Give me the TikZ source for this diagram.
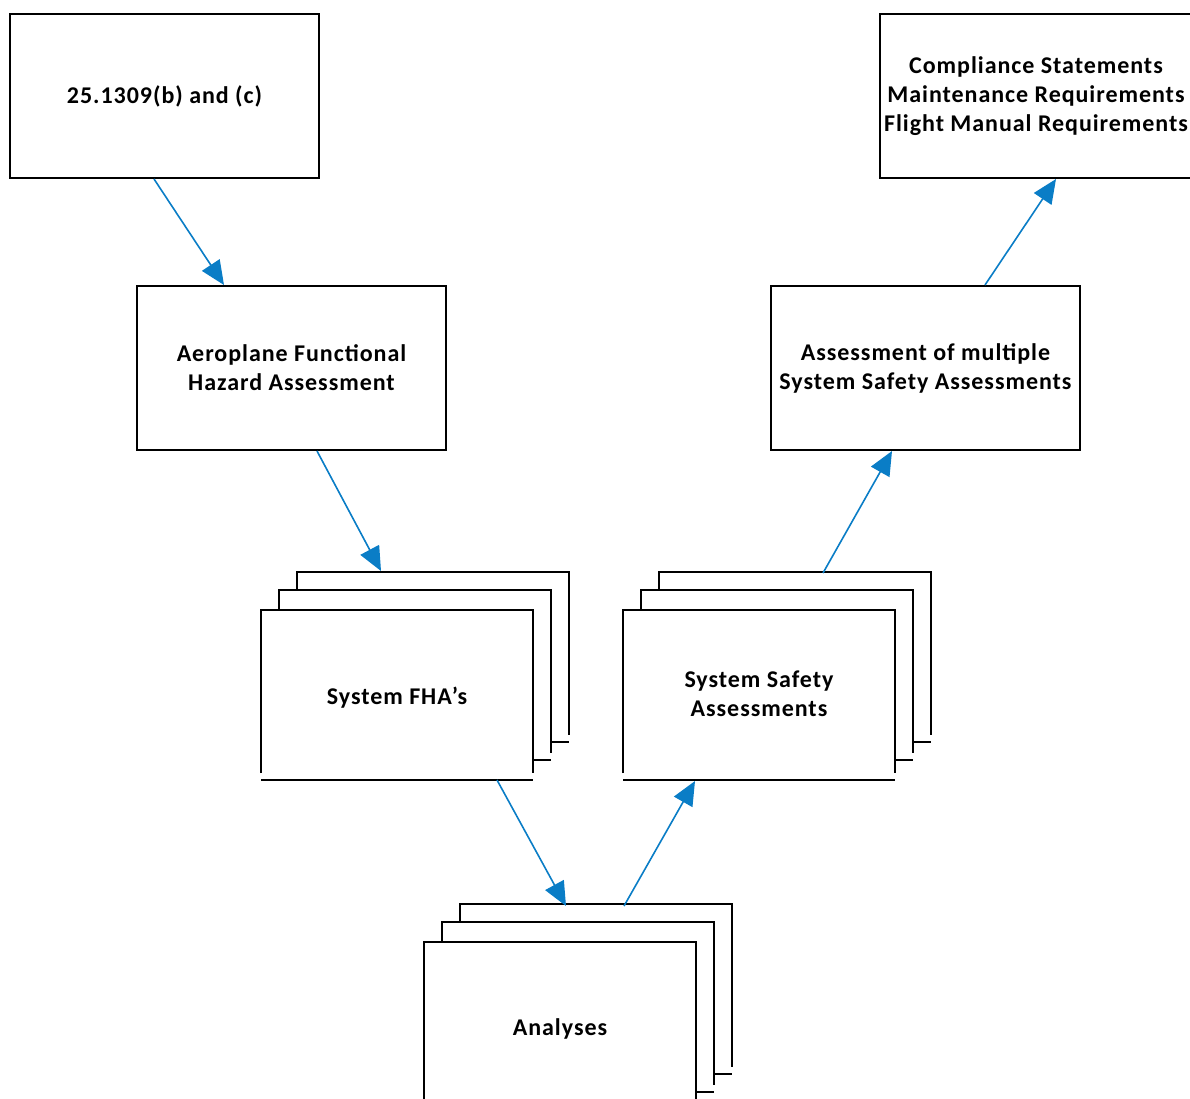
\documentclass[tikz,border=0pt]{standalone}
\usepackage{fontspec}
\setmainfont{Carlito}[LetterSpace=4]
\usetikzlibrary{arrows.meta,positioning}
\usepackage{xcolor}
\definecolor{flow}{HTML}{0A7DC6}

% three stacked pages, front page top-left corner at (#1,#2)
\newcommand\pagestack[2]{%
  \foreach \dx/\dy in {36/-38,18/-20,0/0} {
    \fill[white] (#1+\dx,#2+\dy) rectangle (#1+\dx+272,#2+\dy+170);
    \draw[line width=2pt] (#1+\dx,#2+\dy+163) -- (#1+\dx,#2+\dy) -- (#1+\dx+272,#2+\dy) -- (#1+\dx+272,#2+\dy+163);
    \draw[line width=2pt] (#1+\dx,#2+\dy+170) -- (#1+\dx+272,#2+\dy+170);
  }%
}

\begin{document}
\begin{tikzpicture}[x=1pt,y=-1pt,
    box/.style={draw,line width=2pt,minimum width=309pt,minimum height=164pt,align=center,inner sep=0pt},
    flowarrow/.style={flow,line width=1.6pt,-{Triangle[length=24pt,width=21pt]}},
    font=\fontsize{24}{29}\selectfont\bfseries]
  \useasboundingbox (0,0) rectangle (1190,1099);

  % boxes
  \node[box] (rule) at (164.5,96) {25.1309(b) and (c)};
  \node[box] (afha) at (291.5,368) {Aeroplane Functional\\Hazard Assessment};
  \node[box] (multi) at (925.5,368) {Assessment of multiple\\System Safety Assessments};
  \node[box,minimum width=312pt] (comply) at (1036,96) {Compliance Statements\\Maintenance Requirements\\Flight Manual Requirements};

  % page stacks
  \pagestack{261}{610}
  \pagestack{623}{610}
  \pagestack{424}{942}
  \node (fha) at (397,698) {System FHA’s};
  \node[align=center] (ssa) at (759,694) {System Safety\\Assessments};
  \node (ana) at (560,1029) {Analyses};

  \coordinate (fhatop) at (381,571);
  \coordinate (fhabot) at (497,780);
  \coordinate (anatop) at (566,906);
  \coordinate (anatop2) at (624,906);
  \coordinate (ssabot) at (695,781);
  \coordinate (ssatop) at (823,573);

  % connectors
  \draw[flowarrow] ([xshift=145pt]rule.south west) -- ([xshift=88pt]afha.north west);
  \draw[flowarrow] ([xshift=181pt]afha.south west) -- (fhatop);
  \draw[flowarrow] (fhabot) -- (anatop);
  \draw[flowarrow] (anatop2) -- (ssabot);
  \draw[flowarrow] (ssatop) -- ([xshift=122pt]multi.south west);
  \draw[flowarrow] ([xshift=215pt]multi.north west) -- ([xshift=177pt]comply.south west);
\end{tikzpicture}
\end{document}
